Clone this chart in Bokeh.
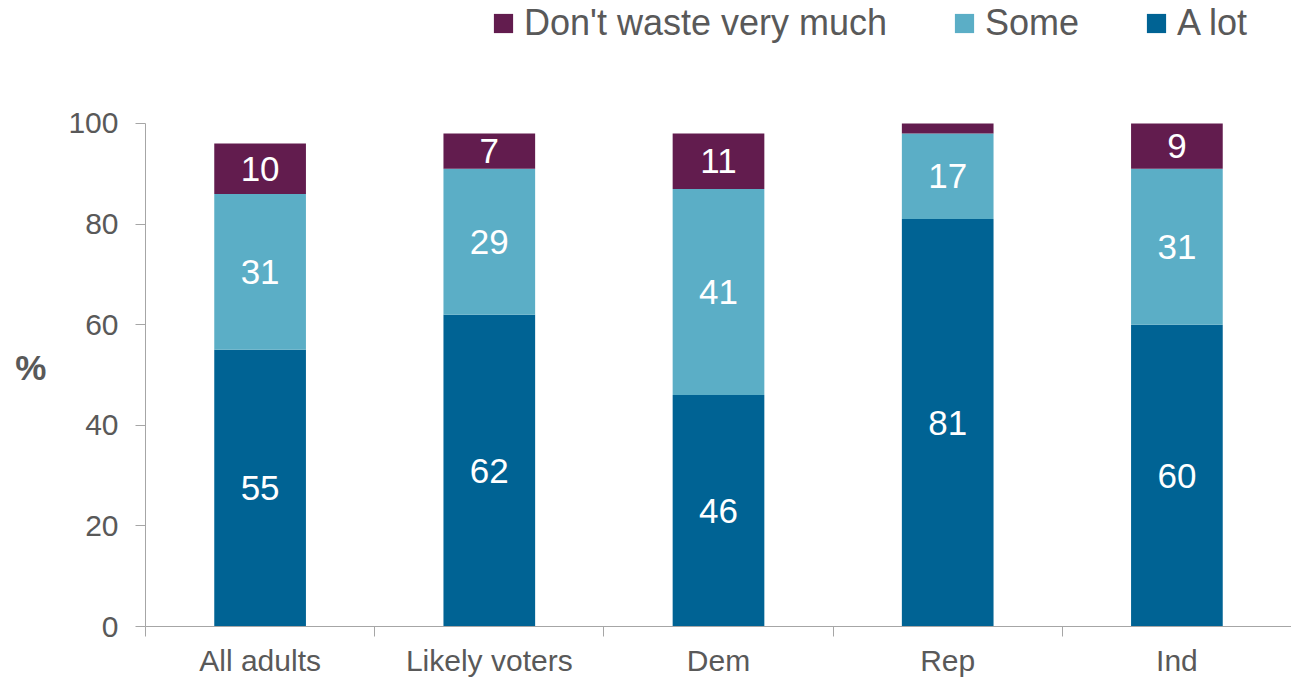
import numpy as np
from bokeh.plotting import figure
from bokeh.models import (ColumnDataSource, Range1d, FixedTicker, Legend, LegendItem)
from bokeh.embed import file_html
from bokeh.resources import INLINE
from bokeh.core.properties import value

categories = ["All adults", "Likely voters", "Dem", "Rep", "Ind"]
a_lot = [55, 62, 46, 81, 60]
some = [31, 29, 41, 17, 31]
dont_waste = [10, 7, 11, 2, 9]
series_names = ["A lot", "Some", "Don't waste very much"]
colors = ["#006394", "#5BAEC6", "#621C4E"]
y_ticks = [0, 20, 40, 60, 80, 100]

FONT = "Liberation Sans"
GRAY_TEXT = "#595959"
AXIS_GRAY = "#A6A6A6"

x = [i + 0.5 for i in range(len(categories))]
src = ColumnDataSource(dict(x=x, a_lot=a_lot, some=some, dont=dont_waste))

# frame extends up to the top of the page so the legend can sit inside it;
# the y axis itself is bounded to 0..100
p = figure(width=1291, height=680, output_backend="svg", toolbar_location=None,
           x_range=Range1d(0, len(categories)), y_range=Range1d(0, 124.45),
           min_border_left=145, min_border_right=0, min_border_top=0, min_border_bottom=54)
p.outline_line_color = None
p.grid.grid_line_color = None
p.background_fill_color = "white"
p.border_fill_color = "white"

renderers = p.vbar_stack(["a_lot", "some", "dont"], x="x", width=0.4, color=colors,
                         line_color=None, source=src)

# segment labels
vals = [a_lot, some, dont_waste]
bottom = np.zeros(len(categories))
lx, ly, lt = [], [], []
for s in vals:
    s = np.array(s, dtype=float)
    for i in range(len(categories)):
        if s[i] >= 5:
            lx.append(x[i]); ly.append(bottom[i] + s[i] / 2); lt.append(str(int(s[i])))
    bottom = bottom + s
p.text(x=lx, y=ly, text=lt, text_align="center", text_baseline="middle",
       text_color="white", text_font=value(FONT), text_font_size="35px")

# axes
yax = p.yaxis[0]
yax.ticker = FixedTicker(ticks=y_ticks)
yax.bounds = (0, 100)
yax.axis_line_color = AXIS_GRAY
yax.major_tick_line_color = AXIS_GRAY
yax.major_tick_out = 10
yax.major_tick_in = 0
yax.minor_tick_line_color = None
yax.major_label_text_font = FONT
yax.major_label_text_font_size = "30px"
yax.major_label_text_color = GRAY_TEXT
yax.major_label_standoff = 17
yax.axis_label = "\n\n\n%"
yax.axis_label_text_font = FONT
yax.axis_label_text_font_style = "bold"
yax.axis_label_text_font_size = "35px"
yax.axis_label_text_line_height = 0.92
yax.axis_label_text_color = GRAY_TEXT
yax.axis_label_standoff = 19
yax.axis_label_orientation = "horizontal"

xax = p.xaxis[0]
xax.ticker = FixedTicker(ticks=x, minor_ticks=list(range(len(categories) + 1)))
xax.major_label_overrides = {xi: c for xi, c in zip(x, categories)}
xax.axis_line_color = AXIS_GRAY
xax.major_tick_line_color = None
xax.major_tick_out = 0
xax.major_tick_in = 0
xax.minor_tick_line_color = AXIS_GRAY
xax.minor_tick_out = 10
xax.minor_tick_in = 0
xax.major_label_text_font = FONT
xax.major_label_text_font_size = "30px"
xax.major_label_text_color = GRAY_TEXT
xax.major_label_standoff = 7

items = [LegendItem(label=series_names[i], renderers=[renderers[i]]) for i in (2, 1, 0)]
legend = Legend(items=items, location=(346, 582), orientation="horizontal",
                label_text_font=FONT, label_text_font_size="36px",
                label_text_color=GRAY_TEXT, glyph_width=24, glyph_height=24,
                label_standoff=9, spacing=65, padding=0, margin=0,
                border_line_color=None, background_fill_alpha=0)
p.add_layout(legend, "center")

open("out.html", "w").write(file_html(p, INLINE))
